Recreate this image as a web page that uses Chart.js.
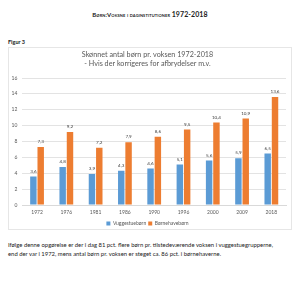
<!DOCTYPE html>
<html><head><meta charset="utf-8">
<script src="https://cdn.jsdelivr.net/npm/chart.js@4.4.1/dist/chart.umd.min.js"></script>
<style>
html,body{margin:0;padding:0;background:#fff;width:300px;height:286px;overflow:hidden;font-family:Lato,"Liberation Sans",sans-serif;}
#pt{position:absolute;left:0;width:300px;top:10px;text-align:center;font-size:6px;font-weight:bold;color:#222;font-variant:small-caps;letter-spacing:0.1px}
#fig{position:absolute;left:8px;top:39px;font-size:5.5px;font-weight:bold;color:#222}
#box{position:absolute;left:8px;top:47px;width:284px;height:183px;border:1px solid #e6e6e6;box-sizing:border-box}
#box canvas{position:absolute;left:0;top:0}
#txt{position:absolute;left:8px;top:240px;width:276px;font-size:5.9px;line-height:9px;color:#222}
</style></head><body>
<div id="pt">Børn:Voksne i daginstitutioner <span style="font-size:7px">1972-2018</span></div>
<div id="fig">Figur 3</div>
<div id="box"><canvas id="c" width="282" height="188"></canvas></div>
<div id="txt">Ifølge denne opgørelse er der i dag 81 pct. flere børn pr. tilstedeværende voksen i vuggestuegrupperne, end der var i 1972, mens antal børn pr. voksen er steget ca. 86 pct. i børnehaverne.</div>
<script>
const years = ["1972","1976","1981","1986","1990","1996","2000","2009","2018"];
const vuggestue = [3.6,4.8,3.9,4.3,4.6,5.1,5.6,5.9,6.5];
const boernehave = [7.3,9.2,7.2,7.9,8.6,9.5,10.4,10.9,13.6];
const seriesNames = ["Vuggestuebørn","Børnehavebørn"];
const titleLines = ["Skønnet antal børn pr. voksen 1972-2018","- Hvis der korrigeres for afbrydelser m.v."];

const labelPlugin = {
  id:'vals',
  afterDatasetsDraw(chart){
    const ctx = chart.ctx;
    ctx.save();
    ctx.font = '4.6px Lato, sans-serif';
    ctx.fillStyle = '#404040';
    ctx.textAlign = 'center';
    ctx.textBaseline = 'bottom';
    chart.data.datasets.forEach((ds,i)=>{
      chart.getDatasetMeta(i).data.forEach((bar,j)=>{
        ctx.fillText(String(ds.data[j]).replace('.',','), bar.x, bar.y-3);
      });
    });
    ctx.restore();
  }
};

new Chart(document.getElementById('c'),{
  type:'bar',
  data:{labels:years,datasets:[
    {label:seriesNames[0],data:vuggestue,backgroundColor:'#5B9BD5'},
    {label:seriesNames[1],data:boernehave,backgroundColor:'#ED7D31'}
  ]},
  options:{
    responsive:false,animation:false,
    layout:{padding:{left:0,right:5,top:1,bottom:0}},
    datasets:{bar:{categoryPercentage:0.5,barPercentage:0.88}},
    plugins:{
      title:{display:true,text:titleLines,color:'#595959',font:{family:'Lato',size:7.2,weight:'normal',lineHeight:1.25},padding:{top:1,bottom:10}},
      legend:{position:'bottom',labels:{boxWidth:4,boxHeight:4,color:'#595959',font:{family:'Lato',size:5},padding:2}},
      tooltip:{enabled:false}
    },
    scales:{
      x:{grid:{display:false,drawTicks:false},border:{color:'#d9d9d9'},ticks:{color:'#595959',font:{family:'Lato',size:5},padding:4,maxRotation:0}},
      y:{min:0,max:16,afterFit(s){s.width=13.4;},ticks:{stepSize:2,color:'#595959',font:{family:'Lato',size:5},padding:5},grid:{color:'#e3e3e3',drawTicks:false},border:{display:false}}
    }
  },
  plugins:[labelPlugin]
});
</script>
</body></html>
